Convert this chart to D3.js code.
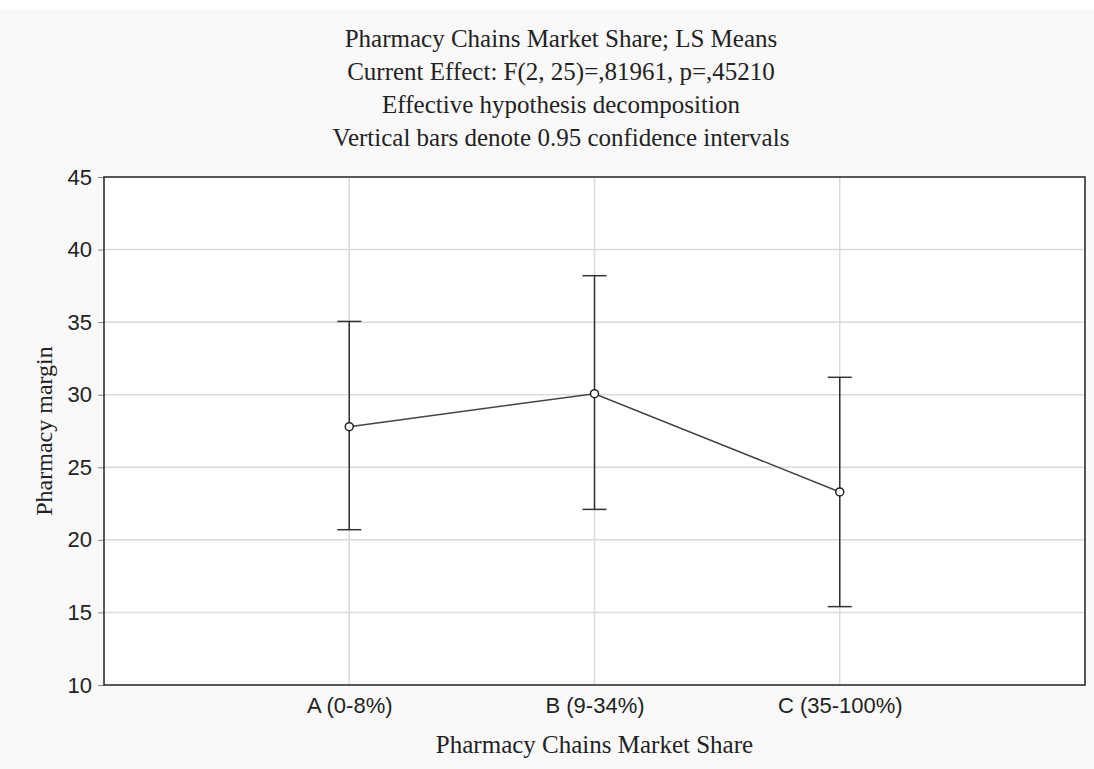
<!DOCTYPE html>
<html>
<head>
<meta charset="utf-8">
<script src="https://cdn.jsdelivr.net/npm/d3@7"></script>
<style>
  body { margin: 0; background: #fff; }
</style>
</head>
<body>
<div id="chart"></div>
<script>
const width = 1094;
const height = 769;
const margin = {top: 177, right: 9, bottom: 84, left: 104};

const categories = ["A (0-8%)", "B (9-34%)", "C (35-100%)"];
const means = [27.8, 30.07, 23.3];
const lower = [20.7, 22.1, 15.4];
const upper = [35.05, 38.2, 31.2];
const yTicks = [10, 15, 20, 25, 30, 35, 40, 45];
const titleLines = [
    "Pharmacy Chains Market Share; LS Means",
    "Current Effect: F(2, 25)=,81961, p=,45210",
    "Effective hypothesis decomposition",
    "Vertical bars denote 0.95 confidence intervals"
];

const svg = d3.select("#chart").append("svg")
    .attr("width", width)
    .attr("height", height);

// light grey page behind the plot
svg.append("rect")
    .attr("x", 0).attr("y", 9)
    .attr("width", width).attr("height", height - 9)
    .attr("fill", "#f9f9f9");

const x = d3.scalePoint()
    .domain(categories)
    .range([margin.left, width - margin.right])
    .padding(1);

const y = d3.scaleLinear()
    .domain([10, 45])
    .range([height - margin.bottom, margin.top]);

// plot area
svg.append("rect")
    .attr("x", margin.left).attr("y", margin.top)
    .attr("width", width - margin.left - margin.right)
    .attr("height", height - margin.top - margin.bottom)
    .attr("fill", "#fff");

// grid
svg.append("g")
    .attr("class", "grid")
    .selectAll("line.h")
    .data(yTicks.slice(1, -1))
    .join("line")
    .attr("x1", margin.left).attr("x2", width - margin.right)
    .attr("y1", d => y(d)).attr("y2", d => y(d))
    .attr("stroke", "#dadada").attr("stroke-width", 1.5);

svg.append("g")
    .attr("class", "grid")
    .selectAll("line.v")
    .data(categories)
    .join("line")
    .attr("x1", d => x(d)).attr("x2", d => x(d))
    .attr("y1", margin.top).attr("y2", height - margin.bottom)
    .attr("stroke", "#dadada").attr("stroke-width", 1.5);

// y axis
const yAxis = d3.axisLeft(y).tickValues(yTicks).tickSize(6).tickPadding(6);
svg.append("g")
    .attr("class", "y axis")
    .attr("transform", "translate(" + margin.left + ",0)")
    .call(yAxis)
    .call(g => g.select(".domain").remove())
    .call(g => g.selectAll("line").attr("stroke", "#888"))
    .call(g => g.selectAll("text")
        .attr("font-family", "Liberation Sans, Arial, sans-serif")
        .attr("font-size", 22)
        .attr("fill", "#222"));

// x axis
const xAxis = d3.axisBottom(x).tickSize(0).tickPadding(12);
svg.append("g")
    .attr("class", "x axis")
    .attr("transform", "translate(0," + (height - margin.bottom) + ")")
    .call(xAxis)
    .call(g => g.select(".domain").remove())
    .call(g => g.selectAll("text")
        .attr("font-family", "Liberation Sans, Arial, sans-serif")
        .attr("font-size", 22)
        .attr("fill", "#222"));

// plot frame
svg.append("rect")
    .attr("x", margin.left).attr("y", margin.top)
    .attr("width", width - margin.left - margin.right)
    .attr("height", height - margin.top - margin.bottom)
    .attr("fill", "none")
    .attr("stroke", "#222").attr("stroke-width", 1.5);

const data = categories.map((c, i) => ({c: c, m: means[i], lo: lower[i], hi: upper[i]}));

// error bars
const bars = svg.append("g").attr("class", "errorbars")
    .attr("stroke", "#333").attr("stroke-width", 1.5);
bars.selectAll("line.stem").data(data).join("line")
    .attr("x1", d => x(d.c)).attr("x2", d => x(d.c))
    .attr("y1", d => y(d.lo)).attr("y2", d => y(d.hi));
bars.selectAll("line.top").data(data).join("line")
    .attr("x1", d => x(d.c) - 12).attr("x2", d => x(d.c) + 12)
    .attr("y1", d => y(d.hi)).attr("y2", d => y(d.hi));
bars.selectAll("line.bot").data(data).join("line")
    .attr("x1", d => x(d.c) - 12).attr("x2", d => x(d.c) + 12)
    .attr("y1", d => y(d.lo)).attr("y2", d => y(d.lo));

// mean line
const line = d3.line().x(d => x(d.c)).y(d => y(d.m));
svg.append("path")
    .attr("d", line(data))
    .attr("fill", "none")
    .attr("stroke", "#444").attr("stroke-width", 1.5);

svg.append("g").selectAll("circle").data(data).join("circle")
    .attr("cx", d => x(d.c)).attr("cy", d => y(d.m))
    .attr("r", 4)
    .attr("fill", "#fff")
    .attr("stroke", "#222").attr("stroke-width", 1.5);

// titles
svg.append("g").selectAll("text").data(titleLines).join("text")
    .attr("x", 561)
    .attr("y", (d, i) => 47 + i * 33)
    .attr("text-anchor", "middle")
    .attr("font-family", "Liberation Serif, Times New Roman, serif")
    .attr("font-size", 25)
    .attr("fill", "#222")
    .text(d => d);

svg.append("text")
    .attr("x", (margin.left + width - margin.right) / 2)
    .attr("y", 753)
    .attr("text-anchor", "middle")
    .attr("font-family", "Liberation Serif, Times New Roman, serif")
    .attr("font-size", 25)
    .attr("fill", "#222")
    .text("Pharmacy Chains Market Share");

svg.append("text")
    .attr("transform", "translate(52," + ((margin.top + height - margin.bottom) / 2) + ") rotate(-90)")
    .attr("text-anchor", "middle")
    .attr("font-family", "Liberation Serif, Times New Roman, serif")
    .attr("font-size", 24)
    .attr("fill", "#222")
    .text("Pharmacy margin");
</script>
</body>
</html>
